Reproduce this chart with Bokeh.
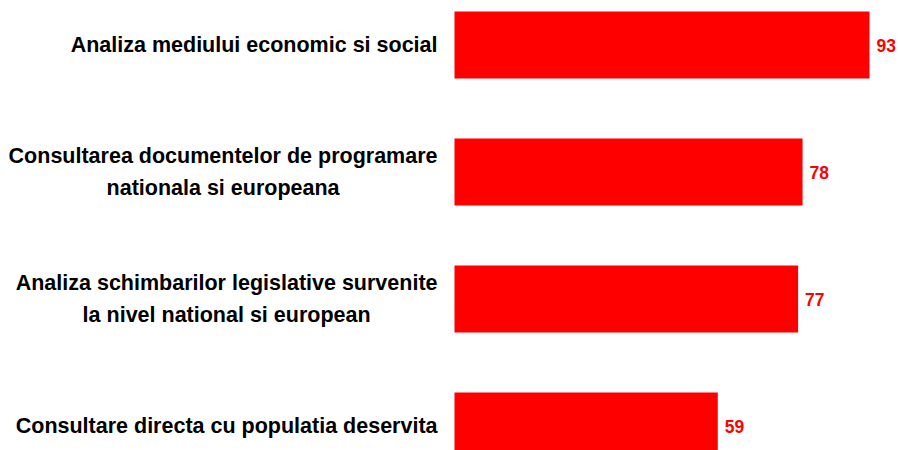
from bokeh.plotting import figure
from bokeh.models import ColumnDataSource, Range1d
from bokeh.core.properties import value
from bokeh.embed import file_html
from bokeh.resources import INLINE

categories = [
    "Analiza mediului economic si social",
    "Consultarea documentelor de programare\nnationala si europeana",
    "Analiza schimbarilor legislative survenite\nla nivel national si european",
    "Consultare directa cu populatia deservita",
]
values = [93, 78, 77, 59]
positions = list(range(len(categories)))

src = ColumnDataSource(dict(
    y=positions,
    v=values,
    cat=categories,
    vlab=[str(x) for x in values],
    zero=[0] * len(values),
))

W, H = 899, 450
px_per_unit = 415 / 93.0
zero_px = 454
row_px = 127.0
top_px = 44.5

p = figure(
    width=W, height=H, output_backend="svg", toolbar_location=None,
    x_range=Range1d(-zero_px / px_per_unit, (W - zero_px) / px_per_unit),
    y_range=Range1d((H - top_px) / row_px, -top_px / row_px),
    min_border=0, min_border_left=0, min_border_right=0,
    min_border_top=0, min_border_bottom=0,
)
p.axis.visible = False
p.grid.visible = False
p.outline_line_color = None
p.background_fill_color = "white"
p.border_fill_color = "white"

p.hbar(y="y", left="zero", right="v", height=67 / row_px, source=src,
       fill_color="#FF0000", line_color=None)

p.text(x="v", y="y", text="vlab", source=src, x_offset=7,
       text_align="left", text_baseline="middle",
       text_font=value("Liberation Sans"), text_font_style="bold",
       text_font_size="17.5px", text_color="#FF0000")

p.text(x="zero", y="y", text="cat", source=src, x_offset=-17,
       anchor=value("center_right"),
       text_align="center", text_baseline="middle",
       text_line_height=1.3,
       text_font=value("Liberation Sans"), text_font_style="bold",
       text_font_size="21.5px", text_color="black")

open("out.html", "w").write(file_html(p, INLINE))
